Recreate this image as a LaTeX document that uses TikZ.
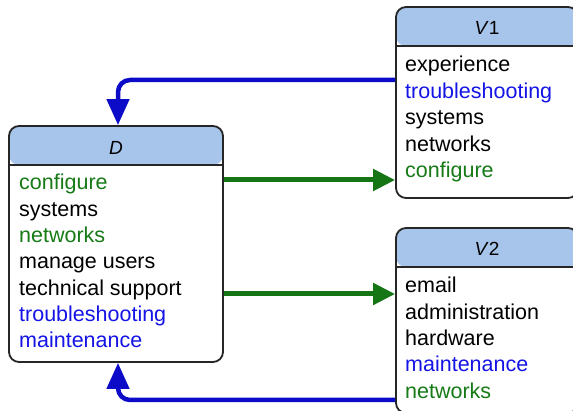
\documentclass[tikz,border=0pt]{standalone}
\usepackage{fontspec}
\setmainfont{Liberation Sans}
\usetikzlibrary{arrows.meta,calc}
\definecolor{hdrblue}{RGB}{167,196,235}
\definecolor{txtgreen}{RGB}{22,122,22}
\definecolor{txtblue}{RGB}{20,20,230}
\definecolor{arrblue}{RGB}{12,12,200}
\definecolor{arrgreen}{RGB}{22,118,22}
\tikzset{
  entity/.style={draw=black!85, line width=1.8pt, rounded corners=10pt, inner sep=0pt,
    path picture={
      \fill[hdrblue] (path picture bounding box.north west) rectangle ([yshift=-39pt]path picture bounding box.north east);
      \draw[line width=1.8pt, black!85] ([yshift=-39pt]path picture bounding box.north west) -- ([yshift=-39pt]path picture bounding box.north east);
    }},
  item/.style={anchor=base west, inner sep=0pt, font=\fontsize{21.5}{26}\selectfont},
  hdr/.style={anchor=base, inner sep=0pt, font=\fontsize{19}{23}\selectfont},
  gr/.style={item, text=txtgreen},
  bl/.style={item, text=txtblue},
  bk/.style={item, text=black},
  blarrow/.style={draw=arrblue, line width=4.5pt, rounded corners=12pt, -{Triangle[length=26pt,width=22pt]}},
  grarrow/.style={draw=arrgreen, line width=5pt, -{Triangle[length=22pt,width=21pt]}}
}
\begin{document}
\begin{tikzpicture}[x=1pt,y=-1pt]
\useasboundingbox (0,0) rectangle (573,411);
\clip (0,0) rectangle (573,411);
\fill[white] (0,0) rectangle (573,411);
% boxes
\node[entity, minimum width=214pt, minimum height=236pt] (D) at (116,244) {};
\node[entity, minimum width=182pt, minimum height=191pt] (V1) at (487,102.5) {};
\node[entity, minimum width=182pt, minimum height=185pt] (V2) at (487,320.5) {};
% headers
\node[hdr] (Dh) at (116,155) {\textit{D}};
\node[hdr] (V1h) at (487,35) {\textit{V}1};
\node[hdr] (V2h) at (487,256) {\textit{V}2};
% D items
\node[gr] (d1) at (19,190) {configure};
\node[bk] (d2) at (19,216.3) {systems};
\node[gr] (d3) at (19,242.6) {networks};
\node[bk] (d4) at (19,268.9) {manage users};
\node[bk] (d5) at (19,295.2) {technical support};
\node[bl] (d6) at (19,321.5) {troubleshooting};
\node[bl] (d7) at (19,347.8) {maintenance};
% V1 items
\node[bk] (a1) at (405,72) {experience};
\node[bl] (a2) at (405,98.5) {troubleshooting};
\node[bk] (a3) at (405,125) {systems};
\node[bk] (a4) at (405,151.5) {networks};
\node[gr] (a5) at (405,178) {configure};
% V2 items
\node[bk] (b1) at (405,293) {email};
\node[bk] (b2) at (405,319.3) {administration};
\node[bk] (b3) at (405,345.6) {hardware};
\node[bl] (b4) at (405,371.9) {maintenance};
\node[gr] (b5) at (405,398.2) {networks};
% connectors
\draw[blarrow] ([yshift=22.5pt]V1.west) -| ([xshift=2pt]D.north);
\draw[grarrow] ([yshift=64pt]D.east) coordinate (g1) -- (g1 -| V1.west);
\draw[grarrow] ([yshift=-50pt]D.east) coordinate (g2) -- (g2 -| V2.west);
\draw[blarrow] ([yshift=-79.5pt]V2.west) -| ([xshift=2pt]D.south);
\end{tikzpicture}
\end{document}
